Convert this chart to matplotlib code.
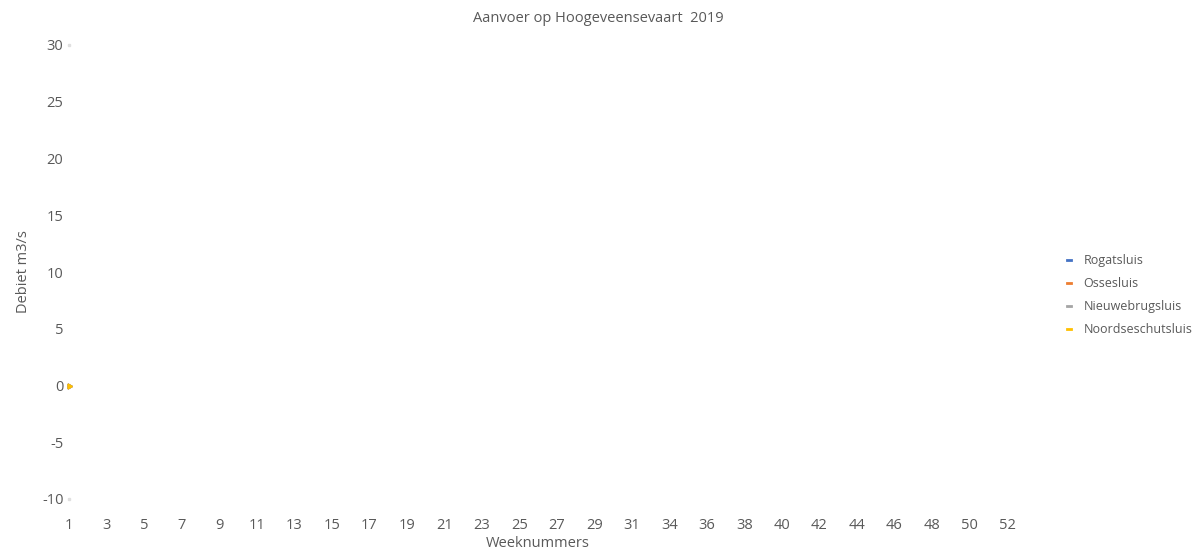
import numpy as np
import matplotlib.pyplot as plt

# week categories (week 33 is absent in the source sheet)
weeks = list(range(1, 33)) + list(range(34, 53))

# only week 1 carries a value; the rest of the year is empty
rogatsluis = [0.0] + [np.nan] * (len(weeks) - 1)
ossesluis = [0.0] + [np.nan] * (len(weeks) - 1)
nieuwebrugsluis = [0.0] + [np.nan] * (len(weeks) - 1)
noordseschutsluis = [0.0] + [np.nan] * (len(weeks) - 1)

series_names = ["Rogatsluis", "Ossesluis", "Nieuwebrugsluis", "Noordseschutsluis"]
series_values = [rogatsluis, ossesluis, nieuwebrugsluis, noordseschutsluis]
series_colors = ["#4472C4", "#ED7D31", "#A5A5A5", "#FFC000"]

y_ticks = [-10, -5, 0, 5, 10, 15, 20, 25, 30]

plt.rcParams['font.family'] = ['Open Sans', 'DejaVu Sans']
plt.rcParams['axes.unicode_minus'] = False
text_color = "#595959"

fig = plt.figure(figsize=(12, 5.51), dpi=100)
ax = fig.add_axes([69 / 1200, 52 / 551, (1007 - 69) / 1200, (499 - 45) / 551])

x = np.arange(len(weeks))
for name, vals, col in zip(series_names, series_values, series_colors):
    ax.plot(x, vals, color=col, lw=1.5, marker=(3, 0, 30), markersize=4,
            label=name, clip_on=False)

# faint end-caps of the value axis seen in the source
ax.plot([0, 0], [y_ticks[0], y_ticks[-1]], ls="none", marker="s", markersize=2,
        color="#e0e0e0", clip_on=False)

ax.set_xlim(0, len(weeks) - 1)
ax.set_ylim(y_ticks[0], y_ticks[-1])
ax.set_xticks(x[::2])
ax.set_xticklabels([str(w) for w in weeks[::2]])
ax.set_yticks(y_ticks)
ax.tick_params(length=0, labelsize=10.5, labelcolor=text_color)
ax.tick_params(axis="y", pad=4)
ax.tick_params(axis="x", pad=14)
for s in ax.spines.values():
    s.set_visible(False)

ax.set_xlabel("Weeknummers", fontsize=10.5, color=text_color, labelpad=2)
ax.set_ylabel("Debiet m3/s", fontsize=10.5, color=text_color, labelpad=8)
fig.text(598 / 1200, 1 - 18 / 551, "Aanvoer op Hoogeveensevaart  2019",
         ha="center", va="center", fontsize=10.5, color=text_color)

handles = [plt.Line2D([], [], color=c, lw=2) for c in series_colors]
leg = fig.legend(handles, series_names, loc="center left",
                 bbox_to_anchor=(1056 / 1200, 1 - 295 / 551), frameon=False,
                 fontsize=9, handlelength=0.3, handletextpad=1.0,
                 labelspacing=0.8)
for t in leg.get_texts():
    t.set_color(text_color)

fig.savefig("out.png", dpi=100)
